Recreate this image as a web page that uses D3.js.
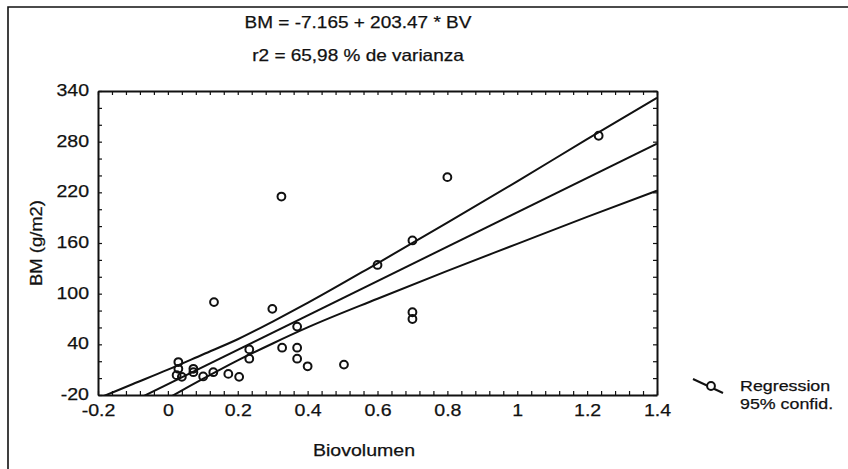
<!DOCTYPE html>
<html>
<head>
<meta charset="utf-8">
<script src="https://cdn.jsdelivr.net/npm/d3@7"></script>
<style>
  html, body { margin: 0; padding: 0; background: #fff; }
  svg { display: block; }
  text { font-family: "Liberation Sans", Arial, sans-serif; fill: #111; stroke: #111; stroke-width: 0.25px; }
</style>
</head>
<body>
<svg id="chart" width="848" height="469"></svg>
<script>
// Biovolume (BV) vs biomass (BM) observations
const bv = [0.325, 0.132, 0.299, 0.370, 0.327, 0.370, 0.370, 0.400, 0.504, 0.233,
            0.233, 0.030, 0.030, 0.025, 0.040, 0.073, 0.073, 0.101, 0.130, 0.173,
            0.204, 1.233, 0.800, 0.700, 0.600, 0.700, 0.700];
const bm = [215, 90, 82, 61, 36, 36, 23, 14, 16, 34,
            23, 19, 11, 3.5, 1.5, 11, 7, 2, 7, 5,
            1.5, 287, 238, 163, 134, 78, 70];

// Fitted regression: BM = intercept + slope * BV
const intercept = -7.165;
const slope = 203.47;

// 95% confidence band
const bandX     = [-0.2, -0.1, 0, 0.1, 0.2, 0.3, 0.4, 0.6, 0.8, 1.0, 1.2, 1.4];
const bandUpper = [-24, -7, 10, 28, 46, 67, 89, 136, 184, 233, 283, 332];
const bandLower = [-72, -48, -24, -1, 21, 41, 60, 94, 127, 159, 191, 222];

// Axis ticks
const xTicks = [-0.2, 0, 0.2, 0.4, 0.6, 0.8, 1, 1.2, 1.4];
const xTickLabels = ["-0.2", "0", "0.2", "0.4", "0.6", "0.8", "1", "1.2", "1.4"];
const yTicks = [-20, 40, 100, 160, 220, 280, 340];
const yTickLabels = ["-20", "40", "100", "160", "220", "280", "340"];

const titleLines = ["BM = -7.165 + 203.47 * BV", "r2 = 65,98 % de varianza"];
const xTitle = "Biovolumen";
const yTitle = "BM (g/m2)";
const legendLabels = ["Regression", "95% confid."];

const svg = d3.select("#chart");
const plot = { left: 98, right: 657, top: 91, bottom: 395 };

const x = d3.scaleLinear().domain([-0.2, 1.4]).range([plot.left, plot.right]);
const y = d3.scaleLinear().domain([-20, 340]).range([plot.bottom, plot.top]);

// outer border (top and left edges)
svg.append("path")
  .attr("d", "M8,469 V7 H848")
  .attr("fill", "none").attr("stroke", "#111").attr("stroke-width", 1.6);

// titles
svg.selectAll("text.title").data(titleLines).join("text")
  .attr("class", "title")
  .attr("x", 358).attr("y", (d, i) => 28 + i * 33)
  .attr("text-anchor", "middle").attr("font-size", 16.5)
  .text(d => d);

// clip region for curves
svg.append("clipPath").attr("id", "plotClip")
  .append("rect")
  .attr("x", plot.left).attr("y", plot.top)
  .attr("width", plot.right - plot.left).attr("height", plot.bottom - plot.top);

const g = svg.append("g").attr("clip-path", "url(#plotClip)");

// confidence band lines
const bandLine = d3.line().curve(d3.curveMonotoneX);
[bandUpper, bandLower].forEach(vals => {
  g.append("path")
    .attr("d", bandLine(bandX.map((v, i) => [x(v), y(vals[i])])))
    .attr("fill", "none").attr("stroke", "#111").attr("stroke-width", 2);
});

// regression line
g.append("path")
  .attr("d", d3.line()(x.domain().map(v => [x(v), y(intercept + slope * v)])))
  .attr("fill", "none").attr("stroke", "#111").attr("stroke-width", 2);

// observations
g.selectAll("circle.obs").data(bv).join("circle")
  .attr("class", "obs")
  .attr("cx", d => x(d)).attr("cy", (d, i) => y(bm[i]))
  .attr("r", 3.9)
  .attr("fill", "none").attr("stroke", "#111").attr("stroke-width", 2);

// minor ticks on all four sides of the frame
const minorX = d3.range(-0.2, 1.4001, 0.04).map(v => +v.toFixed(2));
const minorY = d3.range(-20, 340.01, 20);
function styleFrame(sel) {
  sel.select(".domain").attr("stroke", "#111").attr("stroke-width", 2);
  sel.selectAll(".tick line").attr("stroke", "#111").attr("stroke-width", 1.2);
}
svg.append("g").attr("transform", `translate(0,${plot.bottom})`)
  .call(d3.axisBottom(x).tickValues(minorX).tickSizeInner(-4).tickSizeOuter(0).tickFormat(""))
  .call(styleFrame);
svg.append("g").attr("transform", `translate(0,${plot.top})`)
  .call(d3.axisTop(x).tickValues(minorX).tickSizeInner(-4).tickSizeOuter(0).tickFormat(""))
  .call(styleFrame);
svg.append("g").attr("transform", `translate(${plot.left},0)`)
  .call(d3.axisLeft(y).tickValues(minorY).tickSizeInner(-4).tickSizeOuter(0).tickFormat(""))
  .call(styleFrame);
svg.append("g").attr("transform", `translate(${plot.right},0)`)
  .call(d3.axisRight(y).tickValues(minorY).tickSizeInner(-4).tickSizeOuter(0).tickFormat(""))
  .call(styleFrame);

// tick labels
const xAxisLabels = svg.append("g").attr("transform", `translate(0,${plot.bottom})`)
  .call(d3.axisBottom(x).tickValues(xTicks).tickSize(0).tickPadding(9)
        .tickFormat((d, i) => xTickLabels[i]));
xAxisLabels.select(".domain").remove();
xAxisLabels.selectAll("text").attr("font-size", 17).attr("font-family", null).attr("fill", "#111");

const yAxisLabels = svg.append("g").attr("transform", `translate(${plot.left},0)`)
  .call(d3.axisLeft(y).tickValues(yTicks).tickSize(0).tickPadding(9)
        .tickFormat((d, i) => yTickLabels[i]));
yAxisLabels.select(".domain").remove();
yAxisLabels.selectAll("text").attr("font-size", 17).attr("font-family", null).attr("fill", "#111")
  .attr("dy", "0.27em");

// axis titles
svg.append("text")
  .attr("x", 364).attr("y", 456)
  .attr("text-anchor", "middle").attr("font-size", 17)
  .text(xTitle);
svg.append("text")
  .attr("transform", `translate(42,${(plot.top + plot.bottom) / 2}) rotate(-90)`)
  .attr("text-anchor", "middle").attr("font-size", 16)
  .text(yTitle);

// legend
const lg = svg.append("g");
lg.append("line")
  .attr("x1", 693).attr("y1", 379).attr("x2", 723).attr("y2", 393)
  .attr("stroke", "#111").attr("stroke-width", 2);
lg.append("circle")
  .attr("cx", 711).attr("cy", 386).attr("r", 3.9)
  .attr("fill", "#fff").attr("stroke", "#111").attr("stroke-width", 2);
lg.selectAll("text").data(legendLabels).join("text")
  .attr("x", 740).attr("y", (d, i) => 391 + i * 18)
  .attr("font-size", 15.5)
  .text(d => d);

// widen glyphs slightly to match the original typeface proportions
svg.selectAll("text").each(function () {
  const w = this.getComputedTextLength();
  if (w > 0) {
    this.setAttribute("textLength", (w * 1.15).toFixed(1));
    this.setAttribute("lengthAdjust", "spacingAndGlyphs");
  }
});
</script>
</body>
</html>
